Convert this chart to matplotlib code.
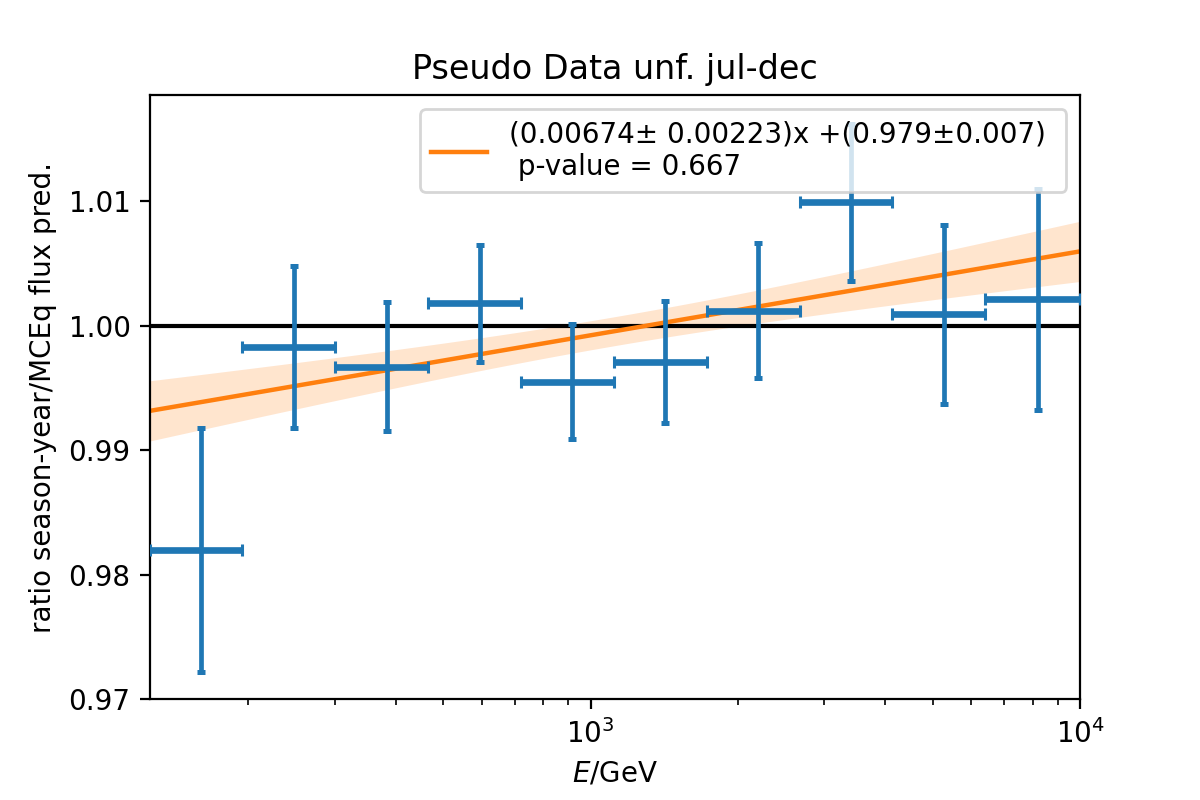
import numpy as np
import matplotlib
matplotlib.use("Agg")
import matplotlib.pyplot as plt

# energy bins (GeV), log-spaced, centres = arithmetic mean of the edges
bin_edges = [125.9, 194.5, 301.0, 465.9, 721.1, 1116.0, 1728.0, 2673.0, 4139.0, 6405.0, 10000.0]
bin_centers = [160.2, 247.8, 383.5, 593.5, 918.6, 1422.0, 2200.5, 3406.0, 5272.0, 8202.5]

# ratio season-year / MCEq prediction
ratio = [0.9820, 0.9983, 0.9967, 1.0018, 0.9955, 0.9971, 1.0012, 1.0099, 1.0009, 1.0021]
ratio_err = [0.0098, 0.0065, 0.0052, 0.0047, 0.0046, 0.0049, 0.0054, 0.0063, 0.0072, 0.0089]

# linear fit in log10(E)
slope, slope_err = 0.00674, 0.00223
intercept, intercept_err = 0.979, 0.0069
corr = -0.9857
p_value = 0.667

edges = np.array(bin_edges)
centers = np.array(bin_centers)
xerr = [centers - edges[:-1], edges[1:] - centers]

fig = plt.figure(figsize=(6, 4), dpi=200)
ax = fig.add_subplot(111)
fig.subplots_adjust(left=0.125, right=0.9, top=0.881, bottom=0.126)

E = np.logspace(np.log10(edges[0]), np.log10(edges[-1]), 200)
lx = np.log10(E)
fit = slope * lx + intercept
sig = np.sqrt(slope_err**2 * lx**2 + intercept_err**2
              + 2 * corr * slope_err * intercept_err * lx)

ax.fill_between(E, fit - sig, fit + sig, color="C1", alpha=0.2, lw=0, zorder=1)
ax.axhline(1.0, color="black", lw=1.5, zorder=2)
ax.plot(E, fit, color="C1", lw=1.6, zorder=2.5,
        label=f"({slope}\u00b1 {slope_err})x +({intercept}\u00b1{0.007}) \n p-value = {p_value}")

# energy bin widths (drawn a bit heavier) and statistical errors
ax.errorbar(centers, ratio, xerr=xerr, linestyle="none", color="C0",
            elinewidth=2.4, capsize=2, capthick=1.1, zorder=3)
ax.errorbar(centers, ratio, yerr=ratio_err, linestyle="none", color="C0",
            elinewidth=1.7, capsize=1.4, capthick=1.8, zorder=3)

ax.set_xscale("log")
ax.set_xlim(edges[0], edges[-1])
ax.set_ylim(0.97, 1.0185)
ax.set_yticks([0.97, 0.98, 0.99, 1.00, 1.01])
ax.set_xlabel("$E$/GeV")
ax.set_ylabel("ratio season-year/MCEq flux pred.")
ax.set_title("Pseudo Data unf. jul-dec")
ax.legend(loc="upper right")

fig.savefig("out.png", dpi=200)
